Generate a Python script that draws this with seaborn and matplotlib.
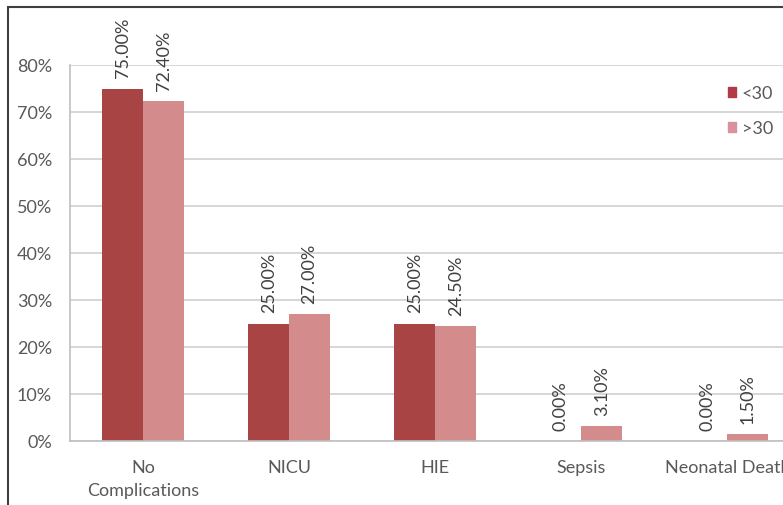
import matplotlib
matplotlib.use("Agg")
import matplotlib.pyplot as plt
import matplotlib.patches as mpatches
import pandas as pd
import seaborn as sns

categories = ["No\nComplications", "NICU", "HIE", "Sepsis", "Neonatal Death"]
groups = ["<30", ">30"]
under_30 = [75.00, 25.00, 25.00, 0.00, 0.00]
over_30 = [72.40, 27.00, 24.50, 3.10, 1.50]
y_ticks = [0, 10, 20, 30, 40, 50, 60, 70, 80]

df = pd.DataFrame({
    "category": categories * 2,
    "group": [groups[0]] * len(categories) + [groups[1]] * len(categories),
    "value": under_30 + over_30,
})

sns.set_theme(style="white")
plt.rcParams["font.family"] = ["Lato", "DejaVu Sans"]

dark = "#A94444"
light = "#D48B8B"
text_col = "#595959"
fs = 13

fig = plt.figure(figsize=(7.83, 5.06), dpi=100)
W, H = 783, 506
ax = fig.add_axes([70 / W, 1 - 442 / H, (783 - 70) / W, (442 - 66) / H])

sns.barplot(data=df, x="category", y="value", hue="group", order=categories,
            hue_order=groups, palette=[dark, light], width=0.56, gap=0,
            saturation=1, linewidth=0, ax=ax, legend=False)

ax.set_xlim(-0.5, 4.38)
ax.set_ylim(0, 80)
ax.set_yticks(y_ticks)
ax.set_yticklabels([f"{t}%" for t in y_ticks])
ax.yaxis.grid(True, color="#D0D0D0", linewidth=1.2)
ax.set_axisbelow(True)
ax.set_xlabel("")
ax.set_ylabel("")
for side in ["top", "right"]:
    ax.spines[side].set_visible(False)
for side in ["left", "bottom"]:
    ax.spines[side].set_color("#BFBFBF")
    ax.spines[side].set_linewidth(1.2)
ax.tick_params(axis="y", colors=text_col, labelsize=fs, pad=13, length=0)
ax.tick_params(axis="x", colors=text_col, labelsize=fs, pad=13, length=0)
for lbl in ax.get_xticklabels():
    lbl.set_linespacing(1.5)

# rotated value labels above each bar
for container in ax.containers:
    for bar in container:
        h = bar.get_height()
        ax.annotate(f"{h:.2f}%", (bar.get_x() + bar.get_width() / 2, h),
                    xytext=(0, 8), textcoords="offset points",
                    rotation=90, ha="center", va="bottom",
                    fontsize=fs, color="#404040", annotation_clip=False)

handles = [mpatches.Patch(color="#B03A48", label=groups[0]),
           mpatches.Patch(color="#D9929C", label=groups[1])]
leg = fig.legend(handles=handles, loc="upper left",
                 bbox_to_anchor=(712 / W, 1 - 70 / H), frameon=False,
                 handlelength=0.45, handleheight=0.45, handletextpad=0.3,
                 labelspacing=1.05, fontsize=fs)
for t in leg.get_texts():
    t.set_color(text_col)

# outer frame of the chart area
fig.add_artist(mpatches.Rectangle((8 / W, -0.1), 1.2, 1 - 8 / H + 0.1,
                                  transform=fig.transFigure, fill=False,
                                  edgecolor="#404040", linewidth=1.5))

fig.savefig("out.png", dpi=100, facecolor="white")
